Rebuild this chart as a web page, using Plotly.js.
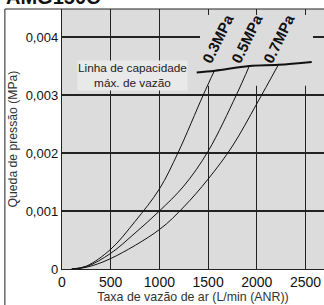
<!DOCTYPE html>
<html><head><meta charset="utf-8">
<script src="https://cdn.plot.ly/plotly-3.0.1.min.js"></script>
<style>html,body{margin:0;padding:0;background:#fff;}</style>
</head><body><div id="chart" style="width:324px;height:305px;"></div>
<script>
// Flow rate (L/min (ANR)) vs pressure drop (MPa)
const x03 = [100, 250, 500, 750, 1000, 1190, 1450, 1565];
const y03 = [0, 0.00005, 0.00034, 0.00082, 0.00138, 0.002, 0.003, 0.00342];
const x05 = [100, 250, 500, 750, 1000, 1250, 1500, 1790, 1923];
const y05 = [0, 0.00004, 0.00027, 0.00062, 0.001, 0.00143, 0.00203, 0.003, 0.0035];
const x07 = [100, 250, 500, 1000, 1250, 1500, 1750, 2000, 2221];
const y07 = [0, 0.00003, 0.00018, 0.00068, 0.00107, 0.00155, 0.00212, 0.00285, 0.00352];
const xCap = [1383, 1571, 1923, 2221, 2564];
const yCap = [0.00339, 0.00342, 0.0035, 0.00352, 0.00357];
const seriesNames = ['0.3MPa', '0.5MPa', '0.7MPa'];
const labelX = [1602, 1899, 2228];
const labelY = [0.00397, 0.00397, 0.00397];
const xTicks = [0, 500, 1000, 1500, 2000, 2500];
const yTicks = [0, 0.001, 0.002, 0.003, 0.004];
const yTickText = ['0', '0,001', '0,002', '0,003', '0,004'];

const FONT = 'Liberation Sans, Arial, sans-serif';
const curveLine = {color: '#111', width: 1, shape: 'spline', smoothing: 1};
const data = [
  {x: x03, y: y03, mode: 'lines', line: curveLine, hoverinfo: 'skip'},
  {x: x05, y: y05, mode: 'lines', line: curveLine, hoverinfo: 'skip'},
  {x: x07, y: y07, mode: 'lines', line: curveLine, hoverinfo: 'skip'},
  {x: xCap, y: yCap, mode: 'lines', line: {color: '#111', width: 2, shape: 'spline'}, hoverinfo: 'skip'}
];

const annotations = seriesNames.map((n, i) => ({
  x: labelX[i], y: labelY[i], xref: 'x', yref: 'y', text: '<b>' + n + '</b>',
  showarrow: false, textangle: -64,
  font: {family: FONT, size: 15, color: '#111'}
}));
annotations.push({
  x: 719, y: 0.00333, xref: 'x', yref: 'y',
  text: 'Linha de capacidade<br>máx. de vazão', showarrow: false,
  align: 'center', bgcolor: '#e9e9e9', borderpad: 0,
  font: {family: FONT, size: 11.8, color: '#222'}
});
annotations.push({
  x: 0.0, y: 0.996, xref: 'paper', yref: 'paper', xanchor: 'left', yanchor: 'bottom',
  xshift: -58,
  text: '<b>AMG150C</b>', showarrow: false,
  font: {family: FONT, size: 20, color: '#111'}
});

const layout = {
  width: 324, height: 305,
  margin: {l: 62, r: 0, t: 9, b: 36},
  paper_bgcolor: '#ffffff', plot_bgcolor: '#dcdcdc',
  showlegend: false,
  font: {family: FONT, color: '#222'},
  xaxis: {
    range: [0, 2690], tickvals: xTicks, ticktext: xTicks.map(String),
    showgrid: true, gridcolor: '#222', gridwidth: 1.2,
    zeroline: false, showline: true, linecolor: '#222', linewidth: 1.2,
    ticks: '', tickfont: {size: 14, color: '#111'},
    title: {text: 'Taxa de vazão de ar (L/min (ANR))', font: {size: 12.4, color: '#333'}, standoff: 2}
  },
  yaxis: {
    range: [0, 0.004483], tickvals: yTicks, ticktext: yTickText,
    showgrid: true, gridcolor: '#222', gridwidth: 1.2,
    zeroline: false, showline: true, linecolor: '#222', linewidth: 1.2,
    ticks: '', tickfont: {size: 13, color: '#111'},
    title: {text: 'Queda de pressão (MPa)', font: {size: 12.2, color: '#333'}, standoff: 5}
  },
  shapes: [
    {type: 'rect', xref: 'x', yref: 'y', layer: 'between', x0: 1417, x1: 2577, y0: 0.00316, y1: 0.00438,
     fillcolor: '#dcdcdc', line: {width: 0}},
    {type: 'line', xref: 'paper', yref: 'paper', x0: -0.218, x1: 1, y0: 1, y1: 1, line: {color: '#222', width: 1}},
    {type: 'line', xref: 'paper', yref: 'paper', x0: -0.218, x1: -0.218, y0: 1, y1: -0.2, line: {color: '#222', width: 1}}
  ],
  annotations: annotations
};
Plotly.newPlot('chart', data, layout, {displayModeBar: false, staticPlot: true});
</script></body></html>
